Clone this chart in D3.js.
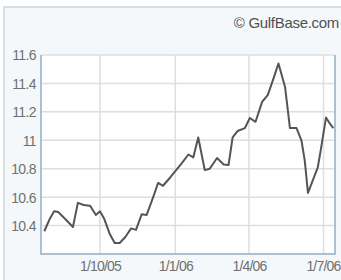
<!DOCTYPE html>
<html>
<head>
<meta charset="utf-8">
<script src="https://cdn.jsdelivr.net/npm/d3@7"></script>
<style>
  body { margin: 0; background: #fff; }
  svg { display: block; }
  text { font-family: "Liberation Sans", Arial, sans-serif; }
</style>
</head>
<body>
<div id="viz"></div>
<script>
// weekly-ish closing prices
var dates = ["2005-07-25","2005-08-01","2005-08-06","2005-08-11","2005-08-19","2005-08-29",
  "2005-09-04","2005-09-11","2005-09-19","2005-09-26","2005-10-01","2005-10-06","2005-10-13",
  "2005-10-19","2005-10-25","2005-11-01","2005-11-08","2005-11-14","2005-11-21","2005-11-27",
  "2005-12-05","2005-12-11","2005-12-17","2005-12-26","2006-01-02","2006-01-09","2006-01-17",
  "2006-01-23","2006-01-29","2006-02-06","2006-02-12","2006-02-21","2006-03-01","2006-03-07",
  "2006-03-12","2006-03-18","2006-03-27","2006-04-02","2006-04-09","2006-04-17","2006-04-24",
  "2006-04-30","2006-05-07","2006-05-15","2006-05-21","2006-05-29","2006-06-04","2006-06-08",
  "2006-06-12","2006-06-18","2006-06-24","2006-06-28","2006-07-04","2006-07-09","2006-07-13"];
var prices = [10.36,10.45,10.50,10.495,10.45,10.39,
  10.56,10.545,10.54,10.475,10.50,10.45,10.34,
  10.277,10.277,10.32,10.38,10.37,10.48,10.475,
  10.60,10.70,10.68,10.74,10.79,10.84,10.90,
  10.88,11.02,10.79,10.80,10.875,10.83,10.826,
  11.02,11.065,11.086,11.157,11.13,11.27,11.32,
  11.42,11.54,11.375,11.086,11.086,11.0,10.86,
  10.63,10.72,10.81,10.945,11.16,11.115,11.086];
var yTicks = [10.4, 10.6, 10.8, 11, 11.2, 11.4, 11.6];
var xTicks = ["2005-10-01", "2006-01-01", "2006-04-01", "2006-07-01"];
var xTickLabels = ["1/10/05", "1/1/06", "1/4/06", "1/7/06"];

var W = 341, H = 280;
var m = {left: 41, right: 335, top: 55, bottom: 254};
var parse = d3.timeParse("%Y-%m-%d");

var data = dates.map(function(d, i){ return {date: parse(d), v: prices[i]}; });

var svg = d3.select("#viz").append("svg")
    .attr("width", W)
    .attr("height", H);

// outer panel
svg.append("rect")
    .attr("x", 4).attr("y", 7)
    .attr("width", W + 10).attr("height", H)
    .style("fill", "#f4f8fa")
    .style("stroke", "#d0d4d6")
    .style("stroke-width", 1.5);

svg.append("text")
    .attr("x", 339).attr("y", 28)
    .attr("text-anchor", "end")
    .style("font-size", "15px")
    .style("letter-spacing", "-0.3px")
    .style("fill", "#505050")
    .text("\u00a9 GulfBase.com");

var x = d3.scaleTime()
    .domain([parse("2005-07-21"), parse("2006-07-15")])
    .range([m.left, m.right]);
var y = d3.scaleLinear()
    .domain([10.2, 11.6])
    .range([m.bottom, m.top]);

svg.append("rect")
    .attr("x", m.left).attr("y", m.top)
    .attr("width", m.right - m.left).attr("height", m.bottom - m.top)
    .style("fill", "#fff");

// grid
svg.append("g").selectAll("line").data(yTicks).enter().append("line")
    .attr("x1", m.left).attr("x2", m.right)
    .attr("y1", function(d){ return y(d); })
    .attr("y2", function(d){ return y(d); })
    .style("stroke", "#dedede")
    .style("stroke-width", 1.5);

svg.append("g").selectAll("line").data(xTicks).enter().append("line")
    .attr("x1", function(d){ return x(parse(d)); })
    .attr("x2", function(d){ return x(parse(d)); })
    .attr("y1", m.top).attr("y2", m.bottom)
    .style("stroke", "#dedede")
    .style("stroke-width", 1.5);

// frame (left, bottom, right)
svg.append("path")
    .attr("d", "M" + m.left + "," + m.top + "V" + m.bottom + "H" + m.right + "V" + m.top)
    .style("fill", "none")
    .style("stroke", "#a9c1d1")
    .style("stroke-width", 2);

// axes
var yAxis = d3.axisLeft(y).tickValues(yTicks).tickSize(0).tickPadding(5)
    .tickFormat(d3.format(""));
var gy = svg.append("g").attr("transform", "translate(" + m.left + ",0)").call(yAxis);
gy.select(".domain").remove();
gy.selectAll("text")
    .style("font-size", "14px")
    .style("letter-spacing", "-0.6px")
    .style("fill", "#707070")
    .attr("dy", "0.35em");

var xAxis = d3.axisBottom(x).tickValues(xTicks.map(parse)).tickSize(0).tickPadding(7)
    .tickFormat(function(d, i){ return xTickLabels[i]; });
var gx = svg.append("g").attr("transform", "translate(0," + m.bottom + ")").call(xAxis);
gx.select(".domain").remove();
gx.selectAll("text")
    .style("font-size", "14px")
    .style("letter-spacing", "-0.8px")
    .style("fill", "#707070");
// last label sits on the right edge; keep it inside
gx.selectAll("text").filter(function(d, i){ return i === xTicks.length - 1; })
    .attr("text-anchor", "end")
    .attr("x", 340 - x(parse(xTicks[xTicks.length - 1])));

// price line
var line = d3.line()
    .x(function(d){ return x(d.date); })
    .y(function(d){ return y(d.v); });

svg.append("path")
    .datum(data)
    .attr("d", line)
    .style("fill", "none")
    .style("stroke", "#555")
    .style("stroke-width", 2)
    .style("stroke-linejoin", "round");
</script>
</body>
</html>
